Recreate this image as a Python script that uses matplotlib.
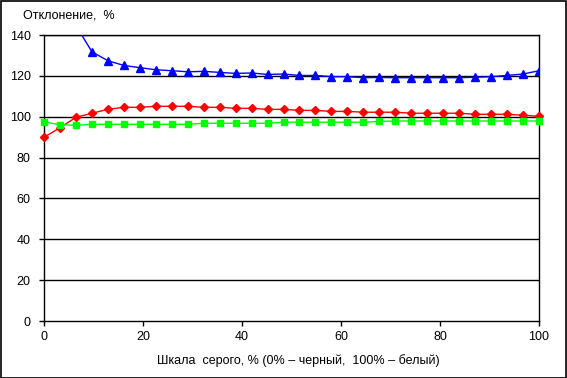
import numpy as np
import matplotlib
matplotlib.use("Agg")
import matplotlib.pyplot as plt
from matplotlib.patches import Rectangle

plt.rcParams['font.family'] = ['Liberation Sans', 'DejaVu Sans']

x_gray = [i * 100 / 31 for i in range(32)]

blue_vals = [190, 160, 144.6, 131.8, 127.4, 125.1, 124.0, 123.0, 122.5, 122.0,
             122.2, 121.7, 121.2, 121.4, 120.7, 120.9, 120.2, 120.2, 119.6, 119.6,
             119.1, 119.2, 119.1, 119.1, 119.1, 119.1, 119.1, 119.3, 119.6, 120.2,
             120.9, 122.5]
red_vals = [89.9, 94.6, 99.7, 101.7, 103.6, 104.6, 104.6, 105.1, 105.1, 105.1,
            104.6, 104.6, 104.1, 104.1, 103.6, 103.6, 103.1, 103.1, 102.6, 102.6,
            102.2, 102.2, 102.2, 101.7, 101.7, 101.7, 101.7, 101.2, 101.2, 101.2,
            100.7, 100.2]
green_vals = [97.4, 96.1, 95.8, 96.3, 96.3, 96.3, 96.3, 96.3, 96.3, 96.3,
              96.8, 96.8, 96.8, 96.8, 96.8, 97.3, 97.3, 97.3, 97.3, 97.3,
              97.3, 97.7, 97.9, 97.9, 97.9, 97.9, 97.9, 97.9, 97.9, 97.9,
              97.9, 97.9]

x_ticks = [0, 20, 40, 60, 80, 100]
y_ticks = [0, 20, 40, 60, 80, 100, 120, 140]

fig = plt.figure(figsize=(5.67, 3.78), dpi=100)
ax = fig.add_axes([44/567, 1-321/378, (539-44)/567, (321-35)/378])

for yv in y_ticks[1:]:
    ax.axhline(yv, color='black', lw=1.0, zorder=1)

ax.plot(x_gray, blue_vals, color='#0000FF', lw=1.0, marker='^', ms=5.5,
        markeredgecolor='#0000FF', markerfacecolor='#0000FF', zorder=3, clip_on=True)
ax.plot(x_gray, red_vals, color='#FF0000', lw=1.0, marker='D', ms=4.2,
        markeredgecolor='#FF0000', markerfacecolor='#FF0000', zorder=3, clip_on=False)
ax.plot(x_gray, green_vals, color='#00FF00', lw=1.0, marker='s', ms=5,
        markeredgecolor='#00FF00', markerfacecolor='#00FF00', zorder=4, clip_on=False)

ax.set_xlim(0, 100)
ax.set_ylim(0, 140)
ax.set_xticks(x_ticks)
ax.set_yticks(y_ticks)
ax.tick_params(axis='both', direction='out', length=3.5, width=1, labelsize=9, colors='black')
ax.tick_params(axis='x', pad=4)
ax.tick_params(axis='y', pad=6)
for s in ax.spines.values():
    s.set_color('black')
    s.set_linewidth(1.0)

fig.text(298/567, 1-361/378, 'Шкала  серого, % (0% – черный,  100% – белый)',
         ha='center', va='center', fontsize=9)
fig.text(23/567, 1-16/378, 'Отклонение,  %', ha='left', va='center', fontsize=9)

fig.patches.append(Rectangle((0.001, 0.001), 0.997, 0.996, transform=fig.transFigure,
                             fill=False, edgecolor='black', lw=1.2))

fig.savefig('out.png', dpi=100)
